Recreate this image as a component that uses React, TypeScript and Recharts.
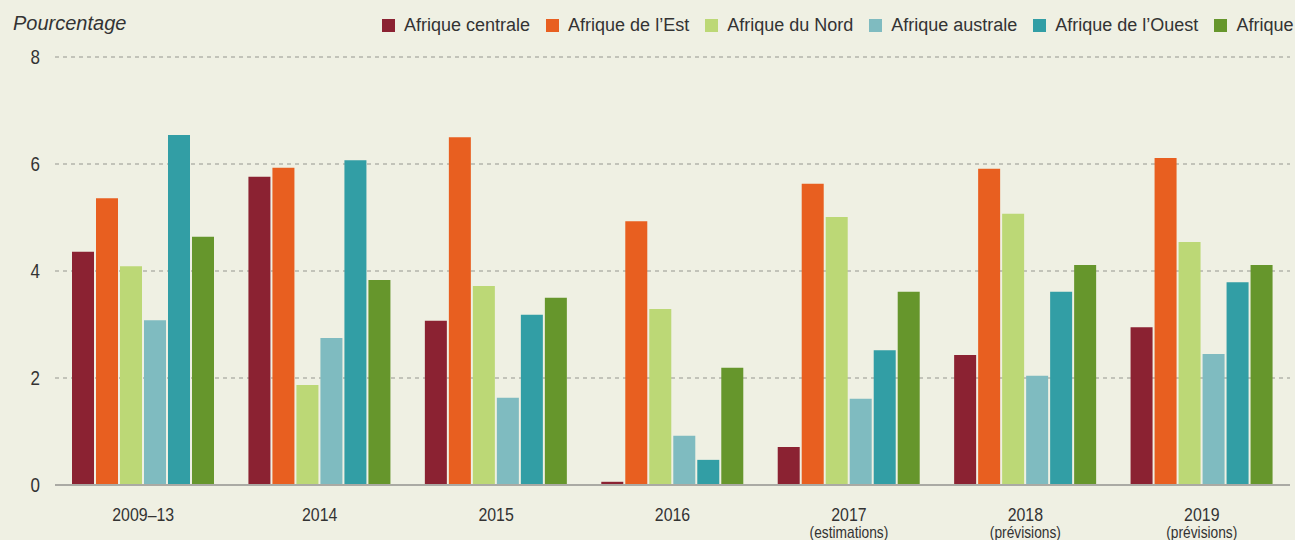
import React from "react";
import { BarChart, Bar, XAxis, YAxis, CartesianGrid } from "recharts";

const periods = ["2009–13", "2014", "2015", "2016", "2017", "2018", "2019"];
const periodNotes = ["", "", "", "", "(estimations)", "(prévisions)", "(prévisions)"];

const centrale = [4.36, 5.76, 3.07, 0.06, 0.71, 2.43, 2.95];
const est = [5.36, 5.93, 6.5, 4.93, 5.63, 5.91, 6.11];
const nord = [4.09, 1.87, 3.72, 3.29, 5.01, 5.07, 4.54];
const australe = [3.08, 2.75, 1.63, 0.92, 1.61, 2.04, 2.45];
const ouest = [6.54, 6.07, 3.18, 0.47, 2.52, 3.61, 3.79];
const afrique = [4.64, 3.83, 3.5, 2.19, 3.61, 4.11, 4.11];

const yTicks = [0, 2, 4, 6, 8];

const SERIES = [
  { key: "centrale", name: "Afrique centrale", color: "#8b2232", values: centrale },
  { key: "est", name: "Afrique de l’Est", color: "#e85f20", values: est },
  { key: "nord", name: "Afrique du Nord", color: "#bcd876", values: nord },
  { key: "australe", name: "Afrique australe", color: "#7fbbc0", values: australe },
  { key: "ouest", name: "Afrique de l’Ouest", color: "#329ea5", values: ouest },
  { key: "afrique", name: "Afrique", color: "#66962c", values: afrique },
];

const data = periods.map((p, i) => {
  const row: Record<string, string | number> = { period: p, note: periodNotes[i] };
  SERIES.forEach((s) => {
    row[s.key] = s.values[i];
  });
  return row;
});

const SANS = "'Liberation Sans', Arial, sans-serif";

// condensed look: squeeze regular sans horizontally
// eslint-disable-next-line @typescript-eslint/no-explicit-any
const PeriodTick = (props: any) => {
  const { x, y, payload, index } = props;
  const note = periodNotes[index];
  return (
    <g transform={`translate(${x},${y}) scale(0.86,1)`}>
      <text x={0} y={0} dy={28} textAnchor="middle" fill="#333" fontSize={18.5} fontFamily={SANS}>
        {payload.value}
      </text>
      {note && (
        <text x={0} y={0} dy={45} textAnchor="middle" fill="#333" fontSize={16} fontFamily={SANS}>
          {note}
        </text>
      )}
    </g>
  );
};

// eslint-disable-next-line @typescript-eslint/no-explicit-any
const ValueTick = (props: any) => {
  const { x, y, payload } = props;
  return (
    <g transform={`translate(${x},${y}) scale(0.85,1)`}>
      <text x={0} y={0} dy={7} textAnchor="end" fill="#333" fontSize={20} fontFamily={SANS}>
        {payload.value}
      </text>
    </g>
  );
};

const LegendBlock = () => (
  <div
    style={{
      position: "absolute",
      top: 15,
      left: 0,
      display: "flex",
      alignItems: "center",
      paddingLeft: 382,
      width: 1295,
      boxSizing: "border-box",
      overflow: "hidden",
      whiteSpace: "nowrap",
      fontFamily: SANS,
      fontSize: 18,
      color: "#333",
      zIndex: 2,
    }}
  >
    {SERIES.map((s) => (
      <div key={s.key} style={{ display: "flex", alignItems: "center", marginRight: 16, flexShrink: 0 }}>
        <span style={{ width: 13, height: 13, background: s.color, marginRight: 9, display: "inline-block" }} />
        <span>{s.name}</span>
      </div>
    ))}
  </div>
);

export default function App() {
  return (
    <div
      style={{
        position: "absolute",
        left: 0,
        top: 0,
        width: 1295,
        height: 540,
        background: "#eff0e3",
        overflow: "hidden",
      }}
    >
      <div
        style={{
          position: "absolute",
          left: 13,
          top: 12,
          fontFamily: SANS,
          fontStyle: "italic",
          fontSize: 20,
          color: "#333",
          zIndex: 2,
        }}
      >
        Pourcentage
      </div>
      <LegendBlock />
      <BarChart
        width={1295}
        height={540}
        data={data}
        margin={{ top: 57, right: 5, left: 0, bottom: 0 }}
        barSize={22}
        barGap={2}
      >
        <CartesianGrid vertical={false} stroke="#b4b4ac" strokeDasharray="4 4" strokeWidth={1.5} />
        <XAxis
          dataKey="period"
          interval={0}
          height={55}
          tickLine={false}
          axisLine={{ stroke: "#aaaaa4", strokeWidth: 2 }}
          tick={<PeriodTick />}
        />
        <YAxis
          domain={[0, 8]}
          ticks={yTicks}
          width={55}
          tickLine={false}
          axisLine={false}
          tickSize={0}
          tickMargin={15}
          tick={<ValueTick />}
        />
        {SERIES.map((s) => (
          <Bar key={s.key} dataKey={s.key} name={s.name} fill={s.color} isAnimationActive={false} />
        ))}
      </BarChart>
    </div>
  );
}
